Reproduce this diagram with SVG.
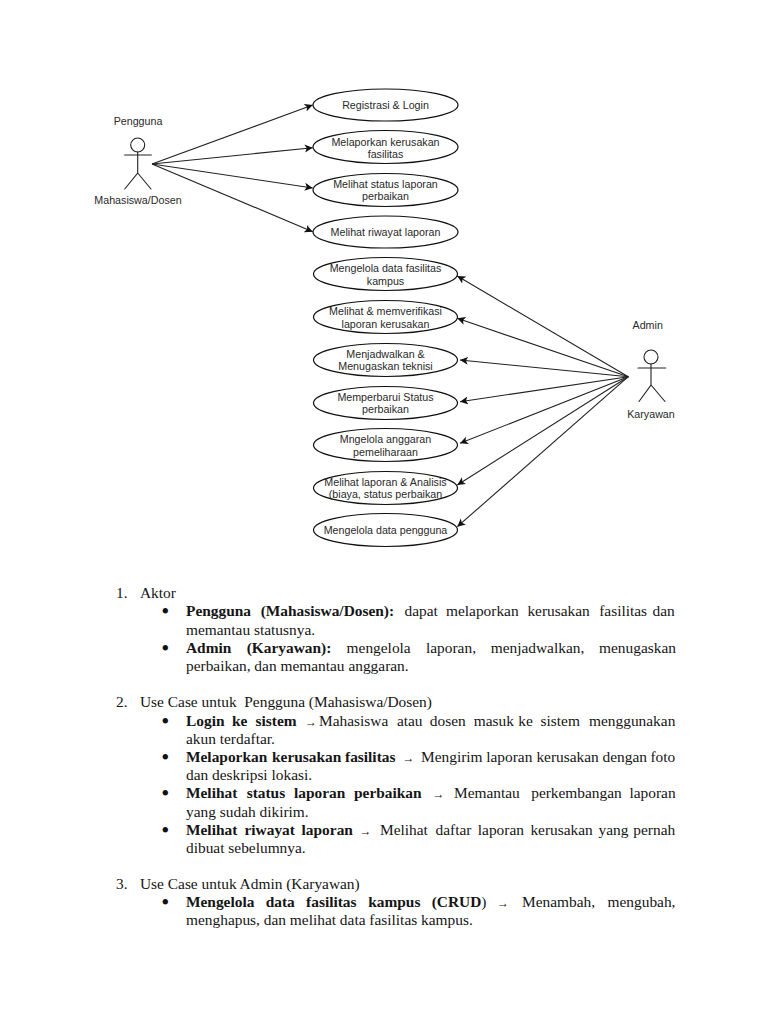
<svg xmlns="http://www.w3.org/2000/svg" width="768" height="1024" viewBox="0 0 768 1024">
<style>
.u{fill:#fff;stroke:#111;stroke-width:1.2}
.a{fill:none;stroke:#222;stroke-width:1.1;stroke-linecap:round}
.l{font:10.7px "Liberation Sans",Arial,sans-serif;fill:#2a2a2a;text-anchor:middle}
.c{fill:none;stroke:#222;stroke-width:1.1}
.t{font:15.4px "Liberation Serif","Times New Roman",serif;fill:#151515}
.b{font-weight:700}
.r{font-size:12px;font-weight:700}
.d{font:23px "Liberation Serif","Times New Roman",serif;fill:#111;text-anchor:middle}
</style>
<defs>
<marker id="ah" markerUnits="userSpaceOnUse" markerWidth="10" markerHeight="10" refX="8" refY="5" orient="auto"><path d="M0 1L8 5L0 9L2 5Z" fill="#111"/></marker>
</defs>
<rect width="768" height="1024" fill="#fff"/>
<g id="connectors">
<path class="c" marker-end="url(#ah)" d="M152 164L312.7 105"/>
<path class="c" marker-end="url(#ah)" d="M152 164L312.7 147.7"/>
<path class="c" marker-end="url(#ah)" d="M152 164L312.7 188"/>
<path class="c" marker-end="url(#ah)" d="M152 164L312.7 231.7"/>
<path class="c" marker-end="url(#ah)" d="M628.3 376.7L457.3 276"/>
<path class="c" marker-end="url(#ah)" d="M628.3 376.7L457.3 318.3"/>
<path class="c" marker-end="url(#ah)" d="M628.3 376.7L460 360"/>
<path class="c" marker-end="url(#ah)" d="M628.3 376.7L460 401.7"/>
<path class="c" marker-end="url(#ah)" d="M628.3 376.7L460 443.3"/>
<path class="c" marker-end="url(#ah)" d="M628.3 376.7L457.3 485"/>
<path class="c" marker-end="url(#ah)" d="M628.3 376.7L457.3 526.7"/>
</g>
<g id="actor-pengguna">
<circle class="a" cx="137.7" cy="145" r="7"/>
<path class="a" d="M124.7 155H151.3M137.7 152V173L124.7 189M137.7 173L151 189"/>
<text class="l" x="138" y="125">Pengguna</text>
<text class="l" x="138" y="204">Mahasiswa/Dosen</text>
</g>
<g id="actor-admin">
<circle class="a" cx="651" cy="357" r="7"/>
<path class="a" d="M638 368H665.7M651 364V385L639 401.5M651 385L665 401.5"/>
<text class="l" x="647.7" y="329">Admin</text>
<text class="l" x="651" y="418">Karyawan</text>
</g>
<g id="uc1"><ellipse class="u" cx="385.5" cy="105" rx="72.5" ry="16"/><text class="l" x="385.5" y="108.5">Registrasi &amp; Login</text></g>
<g id="uc2"><ellipse class="u" cx="385.5" cy="147" rx="72.5" ry="16.5"/><text class="l" x="385.5" y="145.5">Melaporkan kerusakan</text><text class="l" x="385.5" y="158">fasilitas</text></g>
<g id="uc3"><ellipse class="u" cx="385.5" cy="190" rx="72.5" ry="16.5"/><text class="l" x="385.5" y="188">Melihat status laporan</text><text class="l" x="385.5" y="200">perbaikan</text></g>
<g id="uc4"><ellipse class="u" cx="385.5" cy="232" rx="72.5" ry="16"/><text class="l" x="385.5" y="235.5">Melihat riwayat laporan</text></g>
<g id="uc5"><ellipse class="u" cx="385.5" cy="274" rx="72" ry="16.5"/><text class="l" x="385.5" y="272">Mengelola data fasilitas</text><text class="l" x="385.5" y="285">kampus</text></g>
<g id="uc6"><ellipse class="u" cx="385.5" cy="317" rx="72" ry="16.5"/><text class="l" x="385.5" y="315">Melihat &amp; memverifikasi</text><text class="l" x="385.5" y="328">laporan kerusakan</text></g>
<g id="uc7"><ellipse class="u" cx="385.5" cy="360" rx="72" ry="16.5"/><text class="l" x="385.5" y="358">Menjadwalkan &amp;</text><text class="l" x="385.5" y="370">Menugaskan teknisi</text></g>
<g id="uc8"><ellipse class="u" cx="385.5" cy="403" rx="72" ry="16.5"/><text class="l" x="385.5" y="400.5">Memperbarui Status</text><text class="l" x="385.5" y="413">perbaikan</text></g>
<g id="uc9"><ellipse class="u" cx="385.5" cy="445" rx="72" ry="16.5"/><text class="l" x="385.5" y="443">Mngelola anggaran</text><text class="l" x="385.5" y="455.5">pemeliharaan</text></g>
<g id="uc10"><ellipse class="u" cx="385.5" cy="488" rx="72" ry="16.5"/><text class="l" x="385.5" y="485.5">Melihat laporan &amp; Analisis</text><text class="l" x="385.5" y="498">(biaya, status perbaikan</text></g>
<g id="uc11"><ellipse class="u" cx="385.5" cy="530" rx="72" ry="16.5"/><text class="l" x="385.5" y="533.5">Mengelola data pengguna</text></g>
<g id="document">
<text class="t" x="116" y="598">1.</text><text class="t" x="140" y="598">Aktor</text>
<text class="d" x="165.4" y="619">•</text>
<text class="t" y="616"><tspan class="b"><tspan x="186">Pengguna </tspan><tspan x="260.7">(Mahasiswa/Dosen): </tspan></tspan><tspan x="404.5">dapat </tspan><tspan x="446">melaporkan </tspan><tspan x="527.4">kerusakan </tspan><tspan x="599.2">fasilitas </tspan><tspan x="652.5">dan</tspan></text>
<text class="t" x="186" y="635">memantau statusnya.</text>
<text class="d" x="165.4" y="656">•</text>
<text class="t" y="653"><tspan class="b"><tspan x="186">Admin </tspan><tspan x="246.7">(Karyawan): </tspan></tspan><tspan x="346.6">mengelola </tspan><tspan x="426">laporan, </tspan><tspan x="490.7">menjadwalkan, </tspan><tspan x="599">menugaskan</tspan></text>
<text class="t" x="186" y="671">perbaikan, dan memantau anggaran.</text>
<text class="t" x="116" y="707">2.</text><text class="t" x="140" y="707" xml:space="preserve">Use Case untuk  Pengguna (Mahasiswa/Dosen)</text>
<text class="d" x="165.4" y="728.5">•</text>
<text class="t" y="726"><tspan class="b"><tspan x="186">Login </tspan><tspan x="232">ke </tspan><tspan x="255.5">sistem </tspan></tspan><tspan class="r" x="305">→</tspan><tspan x="319">Mahasiswa </tspan><tspan x="396.9">atau </tspan><tspan x="429.8">dosen </tspan><tspan x="473.7">masuk </tspan><tspan x="518.3">ke </tspan><tspan x="540.6">sistem </tspan><tspan x="589">menggunakan</tspan></text>
<text class="t" x="186" y="744">akun terdaftar.</text>
<text class="d" x="165.4" y="765">•</text>
<text class="t" y="762"><tspan class="b"><tspan x="186">Melaporkan </tspan><tspan x="272">kerusakan </tspan><tspan x="345">fasilitas </tspan></tspan><tspan class="r" x="402.5">→</tspan><tspan x="421">Mengirim </tspan><tspan x="486.2">laporan </tspan><tspan x="536.4">kerusakan </tspan><tspan x="602.6">dengan </tspan><tspan x="650.4">foto</tspan></text>
<text class="t" x="186" y="780">dan deskripsi lokasi.</text>
<text class="d" x="165.4" y="801">•</text>
<text class="t" y="798"><tspan class="b"><tspan x="186">Melihat </tspan><tspan x="246.7">status </tspan><tspan x="294">laporan </tspan><tspan x="354">perbaikan </tspan></tspan><tspan class="r" x="432.5">→</tspan><tspan x="454">Memantau </tspan><tspan x="531.2">perkembangan </tspan><tspan x="629.5">laporan</tspan></text>
<text class="t" x="186" y="817">yang sudah dikirim.</text>
<text class="d" x="165.4" y="838">•</text>
<text class="t" y="835"><tspan class="b"><tspan x="186">Melihat </tspan><tspan x="244.5">riwayat </tspan><tspan x="301.6">laporan </tspan></tspan><tspan class="r" x="359.5">→</tspan><tspan x="380">Melihat </tspan><tspan x="435.5">daftar </tspan><tspan x="477.8">laporan </tspan><tspan x="530.4">kerusakan </tspan><tspan x="598.5">yang </tspan><tspan x="633.3">pernah</tspan></text>
<text class="t" x="186" y="853">dibuat sebelumnya.</text>
<text class="t" x="116" y="889">3.</text><text class="t" x="140" y="889">Use Case untuk Admin (Karyawan)</text>
<text class="d" x="165.4" y="910">•</text>
<text class="t" y="907"><tspan class="b"><tspan x="186">Mengelola </tspan><tspan x="265.7">data </tspan><tspan x="306.1">fasilitas </tspan><tspan x="368.2">kampus </tspan><tspan x="431.7">(CRUD</tspan></tspan><tspan>) </tspan><tspan class="r" x="497">→</tspan><tspan x="522">Menambah, </tspan><tspan x="607.5">mengubah,</tspan></text>
<text class="t" x="186" y="925">menghapus, dan melihat data fasilitas kampus.</text>
</g>
</svg>
